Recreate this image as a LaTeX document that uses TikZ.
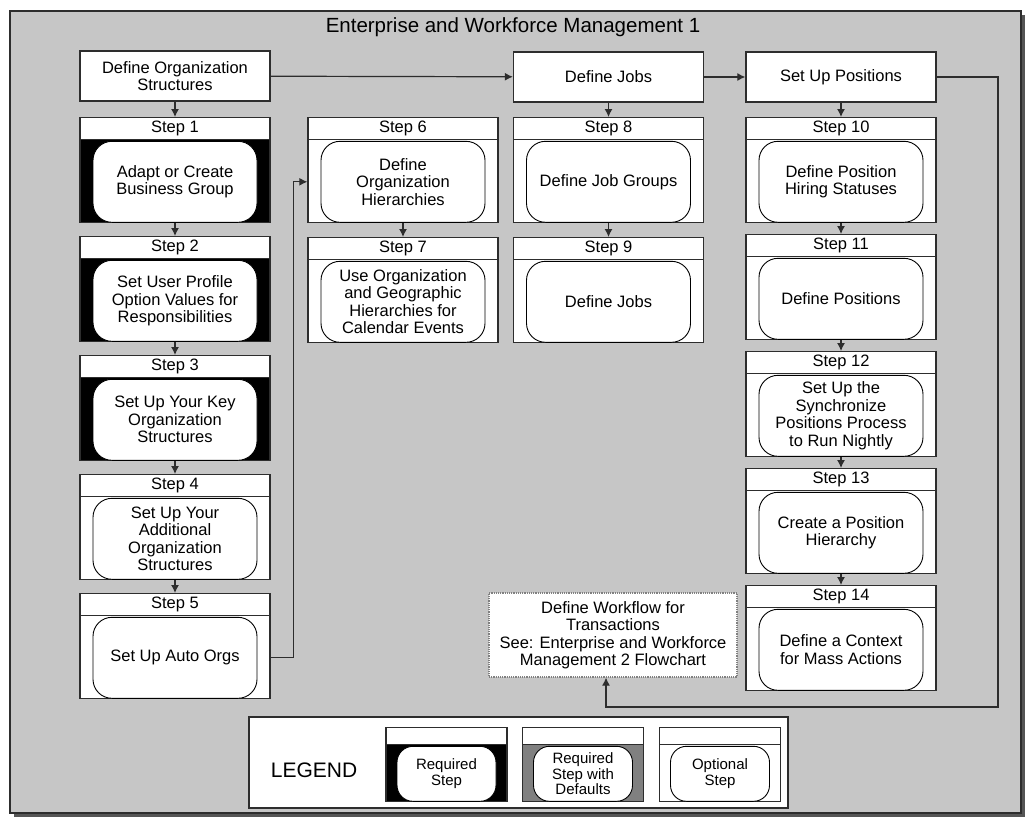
\documentclass[tikz,border=0pt]{standalone}
\usepackage{fontspec}
\setmainfont{Liberation Sans}
\usepackage{xcolor}
\usetikzlibrary{arrows.meta, calc, positioning}
\definecolor{sfondo}{RGB}{198,198,198}
\definecolor{bordo}{RGB}{45,45,45}
\definecolor{ombra}{RGB}{85,85,85}
\definecolor{grigiodef}{RGB}{128,128,128}
% blocco di un passo: nome, x, y (alto), testata, testo, riempimento
\newcommand{\passo}[6]{
\node[blocco, fill=#6] (#1) at (#2,#3) {};
\node[testata] (#1t) at (#1.north) {#4};
\node[corpo] (#1c) at ($(#1t.south)!0.5!(#1.south)$) {#5};
}

\begin{document}
\begin{tikzpicture}[x=1pt, y=-1pt, font=\fontsize{16.5}{17.5}\selectfont,
    blocco/.style={draw=bordo, line width=1.3pt, anchor=north, minimum width=190pt, minimum height=105pt, inner sep=0pt},
    testata/.style={draw=bordo, fill=white, line width=1.3pt, anchor=north, minimum width=190pt, minimum height=22pt, inner sep=0pt},
    corpo/.style={draw=black, fill=white, line width=0.9pt, rounded corners=19pt, minimum width=164pt, minimum height=81pt, align=center, inner sep=2pt},
    cima/.style={draw=bordo, fill=white, line width=1.3pt, minimum width=190pt, minimum height=50pt, align=center},
    flusso/.style={draw=gray, densely dotted, line width=1.2pt, fill=white, minimum width=248pt, minimum height=84pt, align=center, inner sep=2pt},
    freccia/.style={-{Latex[length=8pt,width=8pt]}, line width=1.2pt, draw=bordo}]
    % parametri
    \pgfmathsetmacro{\xa}{175}
    \pgfmathsetmacro{\xb}{403}
    \pgfmathsetmacro{\xc}{608.5}
    \pgfmathsetmacro{\xd}{841}
    \useasboundingbox (0,0) rectangle (1032,819);
    % cornice
    \fill[ombra] (14,15) rectangle (1025,817);
    \draw[bordo, fill=sfondo, line width=1.3pt] (10,11) rectangle (1021,813);
    \node[font=\fontsize{20.5}{22}\selectfont] (titolo) at (513,27) {Enterprise and Workforce Management 1};
    % riga in alto
    \node[cima] (orgstr) at (\xa,76) {Define Organization\\Structures};
    \node[cima] (jobs) at (\xc,77) {Define Jobs};
    \node[cima] (posiz) at (\xd,77) {Set Up Positions};
    % colonna 1
    \passo{s1}{\xa}{117}{Step 1}{Adapt or Create\\Business Group}{black}
    \passo{s2}{\xa}{236}{Step 2}{Set User Profile\\Option Values for\\Responsibilities}{black}
    \passo{s3}{\xa}{355}{Step 3}{Set Up Your Key\\Organization\\Structures}{black}
    \passo{s4}{\xa}{474}{Step 4}{Set Up Your\\Additional\\Organization\\Structures}{white}
    \passo{s5}{\xa}{593}{Step 5}{Set Up Auto Orgs}{white}
    % colonna 2
    \passo{s6}{\xb}{117}{Step 6}{Define\\Organization\\Hierarchies}{white}
    \passo{s7}{\xb}{237}{Step 7}{Use Organization\\and Geographic\\Hierarchies for\\Calendar Events}{white}
    % colonna 3
    \passo{s8}{\xc}{117}{Step 8}{Define Job Groups}{white}
    \passo{s9}{\xc}{237}{Step 9}{Define Jobs}{white}
    % colonna 4
    \passo{s10}{\xd}{117}{Step 10}{Define Position\\Hiring Statuses}{white}
    \passo{s11}{\xd}{234}{Step 11}{Define Positions}{white}
    \passo{s12}{\xd}{351}{Step 12}{Set Up the\\Synchronize\\Positions Process\\to Run Nightly}{white}
    \passo{s13}{\xd}{468}{Step 13}{Create a Position\\Hierarchy}{white}
    \passo{s14}{\xd}{585}{Step 14}{Define a Context\\for Mass Actions}{white}
    % rimando al flowchart 2
    \node[flusso] (wflow) at (613,635) {Define Workflow for\\Transactions\\See: Enterprise and Workforce\\Management 2 Flowchart};
    % frecce
    \draw[freccia] (orgstr) -- (jobs);
    \draw[freccia] (jobs) -- (posiz);
    \draw[freccia] (orgstr) -- (s1t);
    \draw[freccia] (jobs) -- (s8t);
    \draw[freccia] (posiz) -- (s10t);
    \foreach \a/\b in {s1/s2t, s2/s3t, s3/s4t, s4/s5t, s6/s7t, s8/s9t, s10/s11t, s11/s12t, s12/s13t, s13/s14t}
        \draw[freccia] (\a) -- (\b);
    \draw[freccia] (s5.east |- s5c) -- ++(23,0) |- (s6.west |- s6c);
    \coordinate (giro) at (998,707);
    \draw[freccia] (posiz) -| (giro) -| ($(wflow.south)+(-7,0)$);
    % legenda
    \node[draw=bordo, fill=white, line width=1.3pt, minimum width=539pt, minimum height=91pt] (leg) at (518.5,762.5) {};
    \node[font=\fontsize{21}{22}\selectfont] (legtit) at (314,770) {LEGEND};
    \begin{scope}[blocco/.append style={minimum width=121pt, minimum height=74pt},
        testata/.append style={minimum width=121pt, minimum height=17pt},
        corpo/.append style={minimum width=99pt, minimum height=55pt, rounded corners=16pt, font=\fontsize{15}{15.5}\selectfont}]
    \passo{lreq}{446.5}{727}{}{Required\\Step}{black}
    \passo{ldef}{583}{727}{}{Required\\Step with\\Defaults}{grigiodef}
    \passo{lopt}{720}{727}{}{Optional\\Step}{white}
    \end{scope}
\end{tikzpicture}
\end{document}
